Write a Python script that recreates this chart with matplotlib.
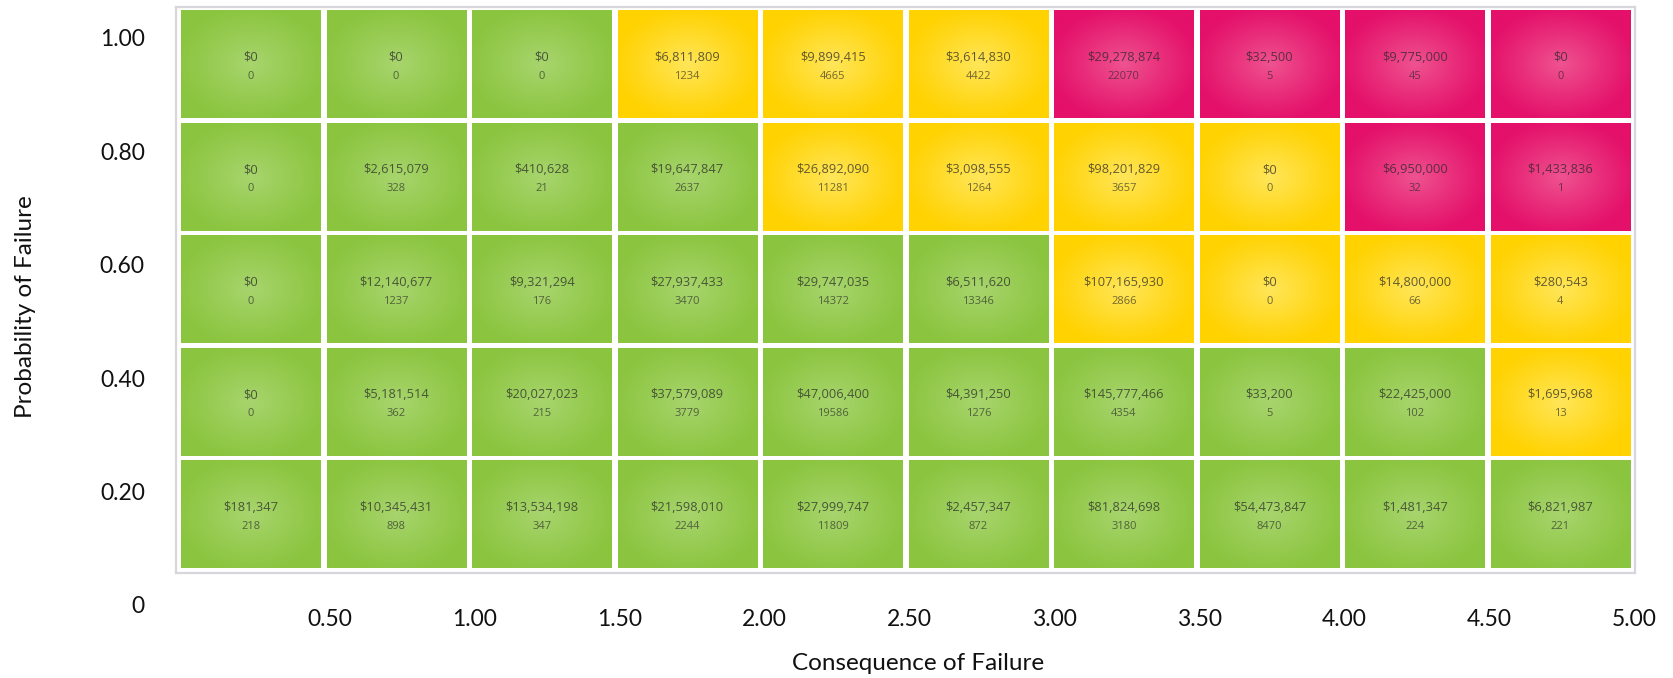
import numpy as np
import matplotlib
matplotlib.use('Agg')
import matplotlib.pyplot as plt
from matplotlib.colors import to_rgb

# ---------------------------------------------------------------------------
# Data: rows from top (probability 1.00) to bottom (0.20), 10 consequence bins
prob_labels = ['1.00', '0.80', '0.60', '0.40', '0.20']
cons_ticks = [0.5, 1.0, 1.5, 2.0, 2.5, 3.0, 3.5, 4.0, 4.5, 5.0]

cost_r100 = [0, 0, 0, 6811809, 9899415, 3614830, 29278874, 32500, 9775000, 0]
cost_r080 = [0, 2615079, 410628, 19647847, 26892090, 3098555, 98201829, 0, 6950000, 1433836]
cost_r060 = [0, 12140677, 9321294, 27937433, 29747035, 6511620, 107165930, 0, 14800000, 280543]
cost_r040 = [0, 5181514, 20027023, 37579089, 47006400, 4391250, 145777466, 33200, 22425000, 1695968]
cost_r020 = [181347, 10345431, 13534198, 21598010, 27999747, 2457347, 81824698, 54473847, 1481347, 6821987]

count_r100 = [0, 0, 0, 1234, 4665, 4422, 22070, 5, 45, 0]
count_r080 = [0, 328, 21, 2637, 11281, 1264, 3657, 0, 32, 1]
count_r060 = [0, 1237, 176, 3470, 14372, 13346, 2866, 0, 66, 4]
count_r040 = [0, 362, 215, 3779, 19586, 1276, 4354, 5, 102, 13]
count_r020 = [218, 898, 347, 2244, 11809, 872, 3180, 8470, 224, 221]

# risk level per cell: G = low, Y = medium, R = high
risk_r100 = 'GGGYYYRRRR'
risk_r080 = 'GGGGYYYYRR'
risk_r060 = 'GGGGGGYYYY'
risk_r040 = 'GGGGGGGGGY'
risk_r020 = 'GGGGGGGGGG'

costs = [cost_r100, cost_r080, cost_r060, cost_r040, cost_r020]
counts = [count_r100, count_r080, count_r060, count_r040, count_r020]
risks = [risk_r100, risk_r080, risk_r060, risk_r040, risk_r020]

# ---------------------------------------------------------------------------
# Styles: (edge colour, centre colour) for the radial gradient of each level
palette = {'G': ('#8bc53f', '#a8d56e'),
           'Y': ('#ffd200', '#ffe65a'),
           'R': ('#e4106a', '#ef5390')}
gap = 0.045
axis_font = 'Lato'
cell_font = 'Open Sans'

fig = plt.figure(figsize=(16.73, 6.78), dpi=100)

# Axis frame that carries the tick labels (0..5 by 0..1)
ax = fig.add_axes([0.1106, 0.1077, 0.8661, 0.8363])
ax.set_xlim(0, 5)
ax.set_ylim(0, 1)
ax.patch.set_visible(False)
for s in ax.spines.values():
    s.set_visible(False)
ax.set_xticks(cons_ticks)
ax.set_xticklabels([f'{v:.2f}' for v in cons_ticks], fontsize=16.5, family=axis_font, color='#111111')
yt = [0, 0.2, 0.4, 0.6, 0.8, 1.0]
ax.set_yticks(yt)
ax.set_yticklabels(['0'] + prob_labels[::-1], fontsize=16.5, family=axis_font, color='#111111')
ax.tick_params(axis='x', length=0, pad=3)
ax.tick_params(axis='y', length=0, pad=29)
ax.set_xlabel('Consequence of Failure', fontsize=17.5, family=axis_font, color='#111111', va='center')
ax.set_ylabel('Probability of Failure', fontsize=17.5, family=axis_font, color='#111111', va='center')
ax.xaxis.set_label_coords(0.506, -0.104)
ax.yaxis.set_label_coords(-0.1104, 0.5256)

# Heat-map panel
hm = fig.add_axes([0.1052, 0.1549, 0.8721, 0.8348])
ncol = len(cons_ticks)
nrow = len(prob_labels)
hm.set_xticks([])
hm.set_yticks([])
for s in hm.spines.values():
    s.set_color('#d6d6dc')
    s.set_linewidth(1.6)

# radial gradient weight (1 at centre, 0 at edges)
gy, gx = np.mgrid[-1:1:60j, -1:1:80j]
weight = np.clip(1 - np.sqrt(gx ** 2 + gy ** 2) / 1.1, 0, 1) ** 1.1

for r in range(nrow):
    y0 = nrow - 1 - r
    for c in range(ncol):
        edge, centre = palette[risks[r][c]]
        e = np.array(to_rgb(edge))
        m = np.array(to_rgb(centre))
        img = e[None, None, :] * (1 - weight[..., None]) + m[None, None, :] * weight[..., None]
        hm.imshow(img, extent=[c + gap / 2, c + 1 - gap / 2, y0 + gap / 2, y0 + 1 - gap / 2],
                  origin='lower', interpolation='bilinear', aspect='auto', zorder=1)
        cx = c + 0.5
        cy = y0 + 0.5
        hm.text(cx, cy + 0.062, f'${costs[r][c]:,}', ha='center', va='center',
                fontsize=9.3, family=cell_font, color='#262626', alpha=0.72, zorder=3)
        hm.text(cx, cy - 0.107, f'{counts[r][c]}', ha='center', va='center',
                fontsize=8, family=cell_font, color='#262626', alpha=0.65, zorder=3)

hm.set_xlim(-0.012, ncol + 0.012)
hm.set_ylim(-0.022, nrow + 0.011)

plt.savefig('out.png', dpi=100)
